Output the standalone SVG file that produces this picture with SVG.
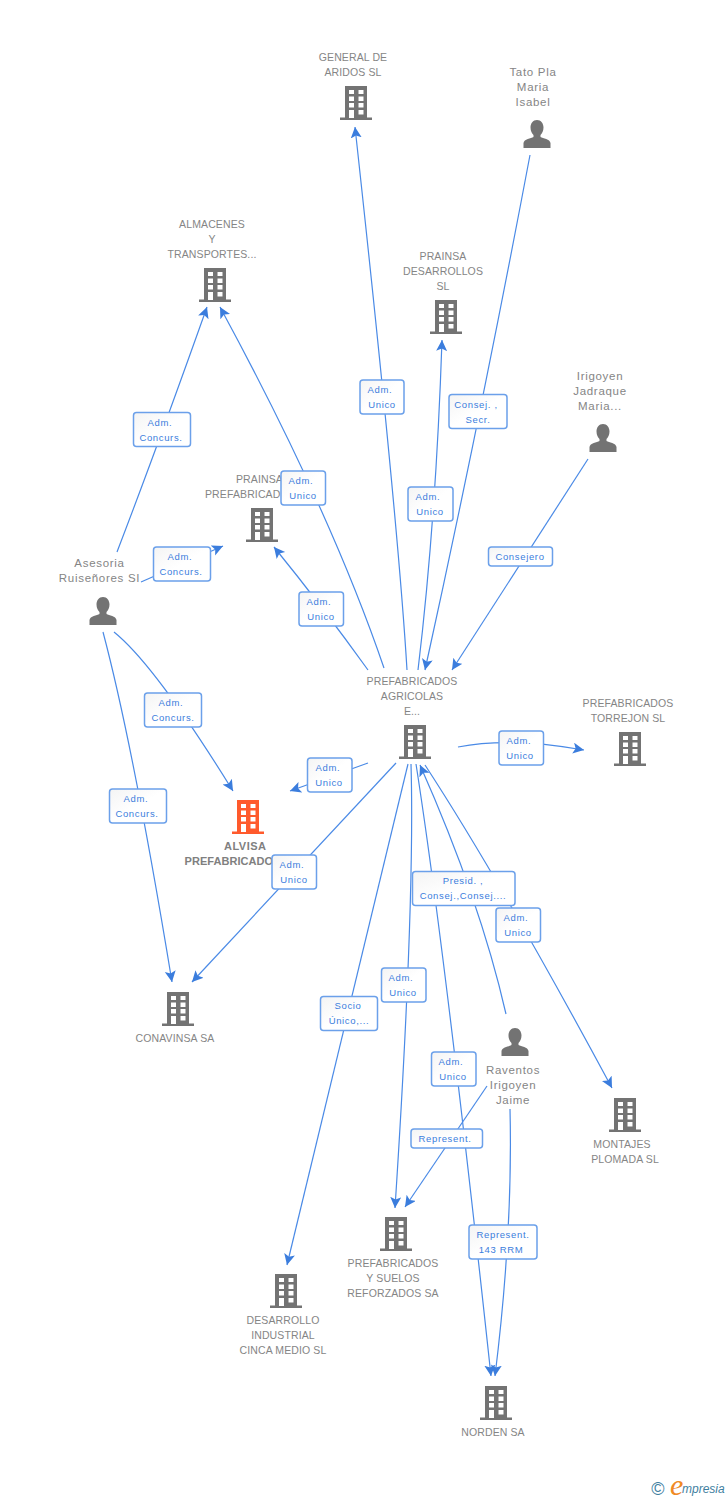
<svg xmlns="http://www.w3.org/2000/svg" width="728" height="1500" viewBox="0 0 728 1500">
<style>
text{font-family:"Liberation Sans",Arial,sans-serif}
.n{font-size:10.5px;fill:#858585;text-anchor:middle;letter-spacing:.12px}
.p{font-size:11.5px;fill:#858585;text-anchor:middle;letter-spacing:.7px}
.b{font-size:11px;font-weight:bold;fill:#808080;letter-spacing:.05px}
.l{font-size:9.5px;fill:#3b7ddd;text-anchor:middle;letter-spacing:.65px}
.c{fill:none;stroke:#4a8ae6;stroke-width:1.2}
.a{marker-end:url(#arrow)}
.box{fill:url(#g);stroke:#6ba0ea;stroke-width:1.5}
</style>
<defs>
<linearGradient id="g" x1="0" y1="0" x2="1" y2="1"><stop offset="0" stop-color="#f4f4f4"/><stop offset=".5" stop-color="#fff"/><stop offset="1" stop-color="#fff"/></linearGradient>
<marker id="arrow" markerUnits="userSpaceOnUse" markerWidth="14" markerHeight="14" refX="11" refY="5.5" orient="auto"><path d="M0 0L11 5.5L0 11L2.500 5.500Z" fill="#3b7ddd"/></marker>
<symbol id="bld" width="32" height="34" viewBox="0 0 32 34" overflow="visible"><path fill-rule="evenodd" d="M5 0H27V31.500H32V34H0V31.500H5ZM9 4V8H14V4ZM18.500 4V8H23.500V4ZM9 10.500V15H14V10.500ZM18.500 10.500V15H23.500V10.500ZM9 17V21.500H14V17ZM18.500 17V21.500H23.500V17ZM9 24V32H14V24ZM18.500 24V28.500H23.500V24Z"/></symbol>
<symbol id="per" width="28" height="28" viewBox="0 0 28 28" overflow="visible"><path d="M14 0C18 0 20.500 3.500 20.500 7.500C20.500 11 19 13.500 17.500 15V17C20 18.500 27 19 27.500 23V28H.5V23C1 19 8 18.500 10.500 17V15C9 13.500 7.500 11 7.500 7.500C7.500 3.500 10 0 14 0Z"/></symbol>
</defs>
<rect width="728" height="1500" fill="#fff"/>
<g id="n-general" fill="#737373"><text class="n" x="353" y="61">GENERAL DE</text><text class="n" x="353" y="76">ARIDOS SL</text><use href="#bld" x="340" y="86"/></g>
<g id="n-tato" fill="#737373"><text class="p" x="533" y="76">Tato Pla</text><text class="p" x="533" y="91">Maria</text><text class="p" x="533" y="106">Isabel</text><use href="#per" x="523" y="120"/></g>
<g id="n-almacenes" fill="#737373"><text class="n" x="212" y="228">ALMACENES</text><text class="n" x="212" y="243">Y</text><text class="n" x="212" y="258">TRANSPORTES...</text><use href="#bld" x="199" y="268"/></g>
<g id="n-prainsa-des" fill="#737373"><text class="n" x="443" y="260">PRAINSA</text><text class="n" x="443" y="275">DESARROLLOS</text><text class="n" x="443" y="290">SL</text><use href="#bld" x="430" y="300"/></g>
<g id="n-irigoyen" fill="#737373"><text class="p" x="600" y="380">Irigoyen</text><text class="p" x="600" y="395">Jadraque</text><text class="p" x="600" y="410">Maria...</text><use href="#per" x="589" y="424"/></g>
<g id="n-prainsa-pref" fill="#737373"><text class="n" x="236" y="483" style="text-anchor:start">PRAINSA</text><text class="n" x="205" y="498" style="text-anchor:start">PREFABRICAD</text><use href="#bld" x="246" y="508"/></g>
<g id="n-asesoria" fill="#737373"><text class="p" x="99.500" y="567">Asesoria</text><text class="p" x="99.500" y="582">Ruiseñores SI</text><use href="#per" x="89" y="597"/></g>
<g id="n-pref-agricolas" fill="#737373"><text class="n" x="412" y="685">PREFABRICADOS</text><text class="n" x="412" y="700">AGRICOLAS</text><text class="n" x="412" y="715">E...</text><use href="#bld" x="399" y="725"/></g>
<g id="n-torrejon" fill="#737373"><text class="n" x="628" y="707">PREFABRICADOS</text><text class="n" x="628" y="722">TORREJON SL</text><use href="#bld" x="614" y="732"/></g>
<g id="n-alvisa" fill="#ff5a2c"><use href="#bld" x="232" y="800"/><text class="b" x="224" y="850" style="letter-spacing:.5px">ALVISA</text><text class="b" x="184.500" y="865">PREFABRICADO</text></g>
<g id="n-conavinsa" fill="#737373"><use href="#bld" x="162" y="992"/><text class="n" x="175" y="1042">CONAVINSA SA</text></g>
<g id="n-raventos" fill="#737373"><use href="#per" x="501" y="1028"/><text class="p" x="513" y="1074">Raventos</text><text class="p" x="513" y="1089">Irigoyen</text><text class="p" x="513" y="1104">Jaime</text></g>
<g id="n-montajes" fill="#737373"><use href="#bld" x="609" y="1098"/><text class="n" x="622" y="1148">MONTAJES</text><text class="n" x="625" y="1163">PLOMADA SL</text></g>
<g id="n-suelos" fill="#737373"><use href="#bld" x="380" y="1217"/><text class="n" x="393" y="1267">PREFABRICADOS</text><text class="n" x="393" y="1282">Y SUELOS</text><text class="n" x="393" y="1297">REFORZADOS SA</text></g>
<g id="n-desarrollo" fill="#737373"><use href="#bld" x="270" y="1274"/><text class="n" x="283" y="1324">DESARROLLO</text><text class="n" x="283" y="1339">INDUSTRIAL</text><text class="n" x="283" y="1354">CINCA MEDIO SL</text></g>
<g id="n-norden" fill="#737373"><use href="#bld" x="480" y="1386"/><text class="n" x="493" y="1436">NORDEN SA</text></g>
<g id="connectors">
<path class="c a" d="M407 670Q398 520 355 127"/>
<path class="c a" d="M530 155Q480 420 425 670"/>
<path class="c a" d="M418 670Q436 520 442 340"/>
<path class="c a" d="M588 459L452 670"/>
<path class="c a" d="M384 668Q330 510 220 307"/>
<path class="c a" d="M368 670Q322 606 274 547"/>
<path class="c a" d="M117 552Q158 445 207 307"/>
<path class="c a" d="M141 582L223 546"/>
<path class="c a" d="M114 632Q155 665 233 791"/>
<path class="c a" d="M103 632Q133 745 172 982"/>
<path class="c a" d="M368 763L290 791"/>
<path class="c a" d="M396 763L192 982"/>
<path class="c a" d="M408 764L287 1265"/>
<path class="c a" d="M411 764Q415 900 395 1208"/>
<path class="c a" d="M416 764Q445 950 491 1376"/>
<path class="c a" d="M506 1014Q480 900 420 765"/>
<path class="c a" d="M425 765Q500 880 612 1088"/>
<path class="c a" d="M487 1086L405 1207"/>
<path class="c a" d="M510 1109Q513 1230 495 1376"/>
<path class="c a" d="M458 747Q510 737 584 750"/>
<g id="l1"><rect class="box" x="360" y="380" width="44" height="34" rx="3"/><text class="l" x="380" y="393">Adm.</text><text class="l" x="382" y="408">Unico</text></g>
<g id="l2"><rect class="box" x="449" y="394.500" width="58" height="34" rx="3"/><text class="l" x="476" y="408">Consej. ,</text><text class="l" x="478" y="423">Secr.</text></g>
<g id="l3"><rect class="box" x="408" y="487" width="45" height="34" rx="3"/><text class="l" x="428" y="500">Adm.</text><text class="l" x="430" y="515">Unico</text></g>
<g id="l4"><rect class="box" x="488.500" y="547" width="64" height="19" rx="3"/><text class="l" x="520" y="560">Consejero</text></g>
<g id="l5"><rect class="box" x="281" y="471" width="44.500" height="34" rx="3"/><text class="l" x="301" y="484">Adm.</text><text class="l" x="303" y="499">Unico</text></g>
<g id="l6"><rect class="box" x="299" y="592" width="44.500" height="34" rx="3"/><text class="l" x="319" y="605">Adm.</text><text class="l" x="321" y="620">Unico</text></g>
<g id="l7"><rect class="box" x="133.500" y="412.500" width="57" height="34" rx="3"/><text class="l" x="160" y="426">Adm.</text><text class="l" x="161" y="441">Concurs.</text></g>
<g id="l8"><rect class="box" x="153.500" y="547" width="57" height="34" rx="3"/><text class="l" x="180" y="560">Adm.</text><text class="l" x="181" y="575">Concurs.</text></g>
<g id="l9"><rect class="box" x="144.500" y="693" width="57" height="34" rx="3"/><text class="l" x="171" y="706">Adm.</text><text class="l" x="173" y="721">Concurs.</text></g>
<g id="l10"><rect class="box" x="109.500" y="789" width="57" height="34" rx="3"/><text class="l" x="136" y="802">Adm.</text><text class="l" x="137" y="817">Concurs.</text></g>
<g id="l11"><rect class="box" x="307.500" y="758" width="44.500" height="34" rx="3"/><text class="l" x="328" y="771">Adm.</text><text class="l" x="329" y="786">Unico</text></g>
<g id="l12"><rect class="box" x="272" y="855" width="44.500" height="34" rx="3"/><text class="l" x="292" y="868">Adm.</text><text class="l" x="294" y="883">Unico</text></g>
<g id="l13"><rect class="box" x="320.500" y="996.500" width="57" height="34" rx="3"/><text class="l" x="348" y="1009">Socio</text><text class="l" x="349" y="1024">Único,...</text></g>
<g id="l14"><rect class="box" x="381.500" y="968" width="44.500" height="34" rx="3"/><text class="l" x="401" y="981">Adm.</text><text class="l" x="403" y="996">Unico</text></g>
<g id="l15"><rect class="box" x="431.500" y="1052" width="44.500" height="34" rx="3"/><text class="l" x="451" y="1065">Adm.</text><text class="l" x="453" y="1080">Unico</text></g>
<g id="l16"><rect class="box" x="412.500" y="871.500" width="102.500" height="34" rx="3"/><text class="l" x="463" y="884">Presid. ,</text><text class="l" x="463" y="899">Consej.,Consej....</text></g>
<g id="l17"><rect class="box" x="496" y="908" width="44.500" height="34" rx="3"/><text class="l" x="516" y="921">Adm.</text><text class="l" x="518" y="936">Unico</text></g>
<g id="l18"><rect class="box" x="411" y="1129" width="71.500" height="19" rx="3"/><text class="l" x="445" y="1142">Represent.</text></g>
<g id="l19"><rect class="box" x="469" y="1225" width="68" height="34" rx="3"/><text class="l" x="503" y="1238">Represent.</text><text class="l" x="501" y="1253">143 RRM</text></g>
<g id="l20"><rect class="box" x="499" y="731" width="44.500" height="34" rx="3"/><text class="l" x="519" y="744">Adm.</text><text class="l" x="520" y="759">Unico</text></g>
</g>
<g id="logo"><text x="658" y="1495" font-size="18" fill="#3f7f9f" text-anchor="middle">©</text><text x="670" y="1495" font-size="30" font-style="italic" fill="#f08a24" style="font-family:'Liberation Serif',serif">e</text><text x="682" y="1493" font-size="12" font-style="italic" fill="#3f7f9f">mpresia</text></g>
</svg>
